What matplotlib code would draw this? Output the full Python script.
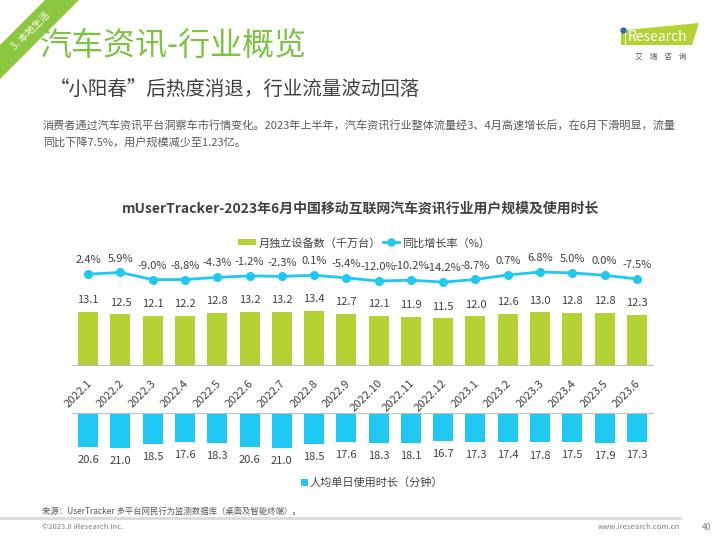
import numpy as np
import matplotlib
matplotlib.use('Agg')
import matplotlib.pyplot as plt
from matplotlib.patches import Polygon, Rectangle

plt.rcParams['font.family'] = ['Noto Sans CJK SC', 'DejaVu Sans']

months = ['2022.1', '2022.2', '2022.3', '2022.4', '2022.5', '2022.6', '2022.7', '2022.8', '2022.9',
          '2022.10', '2022.11', '2022.12', '2023.1', '2023.2', '2023.3', '2023.4', '2023.5', '2023.6']
devices = [13.1, 12.5, 12.1, 12.2, 12.8, 13.2, 13.2, 13.4, 12.7, 12.1, 11.9, 11.5, 12.0, 12.6, 13.0, 12.8, 12.8, 12.3]
growth = [2.4, 5.9, -9.0, -8.8, -4.3, -1.2, -2.3, 0.1, -5.4, -12.0, -10.2, -14.2, -8.7, 0.7, 6.8, 5.0, 0.0, -7.5]
minutes = [20.6, 21.0, 18.5, 17.6, 18.3, 20.6, 21.0, 18.5, 17.6, 18.3, 18.1, 16.7, 17.3, 17.4, 17.8, 17.5, 17.9, 17.3]

GREEN = '#B3D234'
BLUE = '#1FC8F1'
TXT = '#404040'
W, H = 720, 540

fig = plt.figure(figsize=(7.2, 5.4), dpi=100)

# background axes in pixel coordinates for slide decorations
bg = fig.add_axes([0, 0, 1, 1])
bg.set_xlim(0, W)
bg.set_ylim(H, 0)
bg.axis('off')

bg.add_patch(Polygon([(45, 0), (79, 0), (0, 79), (0, 45)], color='#8DC63F', lw=0))
bg.text(31, 31, '3. 本地生活', color='white', fontsize=7, rotation=45, ha='center', va='center')

bg.text(40, 47, '汽车资讯-行业概览', color='#7DC242', fontsize=23, fontweight='light', va='center')
bg.text(50, 89, '“小阳春”后热度消退，行业流量波动回落', color=TXT, fontsize=14, va='center')
bg.text(43, 125, '消费者通过汽车资讯平台洞察车市行情变化。2023年上半年，汽车资讯行业整体流量经3、4月高速增长后，在6月下滑明显，流量',
        color='#595959', fontsize=8, va='center')
bg.text(43, 142, '同比下降7.5%，用户规模减少至1.23亿。', color='#595959', fontsize=8, va='center')

# logo
bg.add_patch(Polygon([(626, 30), (699, 23), (692, 45), (626, 45)], color=GREEN, lw=0))
bg.add_patch(Rectangle((620.5, 33), 4, 12, color=GREEN, lw=0))
bg.plot([622.5], [29.5], 'o', color='#2E6DB4', ms=3.5)
bg.text(628, 37, 'Research', color='white', fontsize=10, va='center')
bg.text(661, 57, '艾    瑞    咨    询', color='#595959', fontsize=5.5, ha='center', va='center')

# chart title and legends
bg.text(361, 208, 'mUserTracker-2023年6月中国移动互联网汽车资讯行业用户规模及使用时长',
        color=TXT, fontsize=10, fontweight='bold', ha='center', va='center')
bg.add_patch(Rectangle((238, 239), 18, 6, color=GREEN, lw=0))
bg.text(259, 243, '月独立设备数（千万台）', color=TXT, fontsize=8, va='center')
bg.plot([383, 399], [242, 242], color=BLUE, lw=2)
bg.plot([391], [242], 'o', color=BLUE, ms=5)
bg.text(402, 243, '同比增长率（%）', color=TXT, fontsize=8, va='center')
bg.add_patch(Rectangle((301, 479), 7, 7, color=BLUE, lw=0))
bg.text(310, 483, '人均单日使用时长（分钟）', color=TXT, fontsize=8, va='center')

# footer
bg.text(42, 511, '来源：UserTracker 多平台网民行为监测数据库（桌面及智能终端）。', color='#595959', fontsize=6, va='center')
bg.plot([0, 680], [518, 518], color='#D9D9D9', lw=2)
bg.text(42, 527, '©2023.8 iResearch Inc.', color='#7F7F7F', fontsize=5.5, va='center')
bg.text(680, 527, 'www.iresearch.com.cn', color='#7F7F7F', fontsize=5.5, ha='right', va='center')
bg.text(702, 527, '40', color='#7F7F7F', fontsize=6, va='center')


def px_axes(x0, y0, x1, y1):
    a = fig.add_axes([x0 / W, 1 - y1 / H, (x1 - x0) / W, (y1 - y0) / H])
    a.patch.set_alpha(0)
    a.set_xlim(-0.5, len(months) - 0.5)
    a.set_xticks([])
    a.set_yticks([])
    for s in a.spines.values():
        s.set_visible(False)
    return a


x = np.arange(len(months))

# top bars
ax1 = px_axes(72, 295, 653, 365)
ax1.set_ylim(0, 70 / 4.05)
ax1.bar(x, devices, width=0.62, color=GREEN)
ax1.spines['bottom'].set_visible(True)
ax1.spines['bottom'].set_color('#BFBFBF')
for xi, v in zip(x, devices):
    ax1.annotate(f'{v:.1f}', (xi, v), xytext=(0, 8.5), textcoords='offset points',
                 ha='center', va='center', fontsize=8, color=TXT)

# growth line
ax2 = px_axes(72, 250, 653, 300)
ax2.set_ylim(-51.5, 52.7)
ax2.plot(x, growth, color=BLUE, lw=2, marker='o', ms=5.5)
for xi, v in zip(x, growth):
    ax2.annotate(f'{v:.1f}%', (xi, v), xytext=(0, 10), textcoords='offset points',
                 ha='center', va='center', fontsize=8, color=TXT)

# month labels
for xi, m in zip(x, months):
    ax1.annotate(m, (xi, 0), xytext=(1.5, -12), textcoords='offset points', rotation=45,
                 rotation_mode='anchor', ha='right', va='center', fontsize=8, color=TXT)

# bottom bars
ax3 = px_axes(72, 413, 653, 475)
ax3.set_ylim(62 / 1.65, 0)
ax3.bar(x, minutes, width=0.62, color=BLUE)
ax3.spines['top'].set_visible(True)
ax3.spines['top'].set_color('#BFBFBF')
for xi, v in zip(x, minutes):
    ax3.annotate(f'{v:.1f}', (xi, v), xytext=(0, -9.5), textcoords='offset points',
                 ha='center', va='center', fontsize=8, color=TXT)

fig.savefig('out.png', dpi=100)
